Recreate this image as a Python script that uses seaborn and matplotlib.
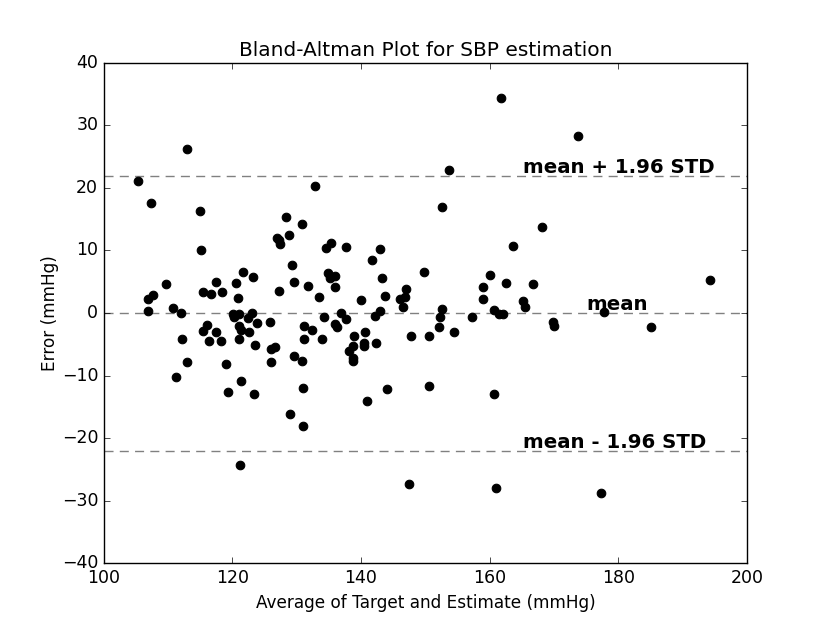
import seaborn as sns
import matplotlib.pyplot as plt
import pandas as pd

# Punkte: Mittelwert (x) und Fehler (y), mmHg
avg_bp = [
    105.4, 107.3, 113.0, 114.9, 115.1, 109.7, 106.9, 107.6, 106.9, 110.7,
    112.0, 115.4, 116.6, 117.5, 118.4, 120.6, 120.9, 121.7, 123.2, 127.3,
    127.0, 127.2, 127.4, 128.4, 128.8, 129.2, 129.5, 130.8, 131.8, 132.9,
    133.5, 112.2, 113.0, 111.2, 116.0, 115.5, 116.3, 117.5, 118.3, 119.0,
    119.3, 120.1, 120.3, 121.0, 121.0, 121.3, 121.1, 121.4, 122.4, 123.0,
    122.6, 123.8, 123.5, 123.4, 125.8, 126.0, 126.7, 126.0, 129.5, 129.0,
    131.1, 132.3, 131.1, 130.8, 131.0, 131.0, 121.2,
    134.6, 135.4, 137.7, 142.9, 141.7, 149.8, 134.8, 135.1, 136.0, 135.9,
    140.0, 143.2, 143.7, 147.0, 146.8, 146.0, 146.5, 134.3, 136.9, 137.6,
    142.2, 142.9, 134.0, 136.0, 136.2, 138.9, 140.6, 138.1, 138.7, 138.7,
    138.8, 140.5, 140.5, 142.4, 147.8, 150.6, 141.0, 144.1, 150.6, 147.5,
    161.8, 173.8, 153.6, 152.6, 168.1, 163.6, 160.0, 158.9, 162.6, 166.8,
    158.9, 165.1, 165.5, 152.6, 152.3, 157.3, 160.7, 161.5, 162.1, 169.8,
    170.0, 177.8, 152.1, 154.5, 160.6, 161.0, 177.3, 185.0, 194.2,
]
error_bp = [
    21.1, 17.5, 26.2, 16.3, 10.0, 4.6, 2.2, 2.8, 0.3, 0.8,
    0.0, 3.4, 3.0, 5.0, 3.4, 4.8, 2.4, 6.6, 5.7, 3.5,
    12.0, 11.6, 11.1, 15.4, 12.5, 7.6, 4.9, 14.2, 4.3, 20.3,
    2.6, -4.2, -7.8, -10.3, -1.9, -2.8, -4.4, -3.0, -4.5, -8.1,
    -12.6, -0.1, -0.6, -0.1, -2.1, -2.7, -4.1, -10.8, -0.8, 0.0,
    -3.1, -1.6, -5.1, -13.0, -1.4, -5.8, -5.4, -7.9, -6.9, -16.1,
    -2.1, -2.7, -4.2, -7.6, -12.0, -18.0, -24.3,
    10.4, 11.2, 10.5, 10.3, 8.5, 6.6, 6.4, 5.6, 5.9, 4.1,
    2.1, 5.6, 2.7, 3.9, 2.5, 2.2, 1.0, -0.7, 0.0, -1.0,
    -0.4, 0.3, -4.1, -1.8, -2.3, -3.6, -3.1, -6.0, -5.3, -7.2,
    -7.6, -4.8, -5.2, -4.8, -3.6, -3.7, -14.0, -12.2, -11.7, -27.3,
    34.3, 28.3, 22.9, 16.9, 13.8, 10.7, 6.0, 4.2, 4.8, 4.6,
    2.2, 1.9, 1.0, 0.7, -0.7, -0.6, 0.5, -0.1, -0.1, -1.5,
    -2.0, 0.1, -2.3, -3.0, -13.0, -28.0, -28.7, -2.2, 5.3,
]

mean_err = -0.05
upper_loa = 21.95
lower_loa = -22.05

df = pd.DataFrame({"avg": avg_bp, "err": error_bp})

# alter matplotlib-Look
plt.style.use("classic")
plt.rcParams["figure.facecolor"] = "white"
plt.rcParams["savefig.facecolor"] = "white"
plt.rcParams["font.family"] = ["DejaVu Sans"]
plt.rcParams["font.size"] = 12.5

fig = plt.figure(figsize=(8.3, 6.26), dpi=100)
ax = fig.add_axes([0.125, 0.1, 0.775, 0.8])

sns.scatterplot(data=df, x="avg", y="err", color="black", edgecolor="black",
                s=38, linewidth=0.8, ax=ax, zorder=3)

for yv in [mean_err, upper_loa, lower_loa]:
    ax.axhline(yv, color="gray", linestyle=(0, (6.5, 4.5)), linewidth=1.0, zorder=2)

ax.text(165.1, upper_loa + 0.45, "mean + 1.96 STD", fontsize=14.2,
        fontweight="bold", va="baseline", zorder=4)
ax.text(175.0, mean_err + 0.45, "mean", fontsize=14.2,
        fontweight="bold", va="baseline", zorder=4)
ax.text(165.1, lower_loa + 0.45, "mean - 1.96 STD", fontsize=14.2,
        fontweight="bold", va="baseline", zorder=4)

ax.set_xlim(100, 200)
ax.set_ylim(-40, 40)
ax.set_title("Bland-Altman Plot for SBP estimation", fontsize=14.5)
ax.set_xlabel("Average of Target and Estimate (mmHg)", fontsize=12.2)
ax.set_ylabel("Error (mmHg)", fontsize=12.2, labelpad=2)

fig.savefig("out.png", dpi=100)
